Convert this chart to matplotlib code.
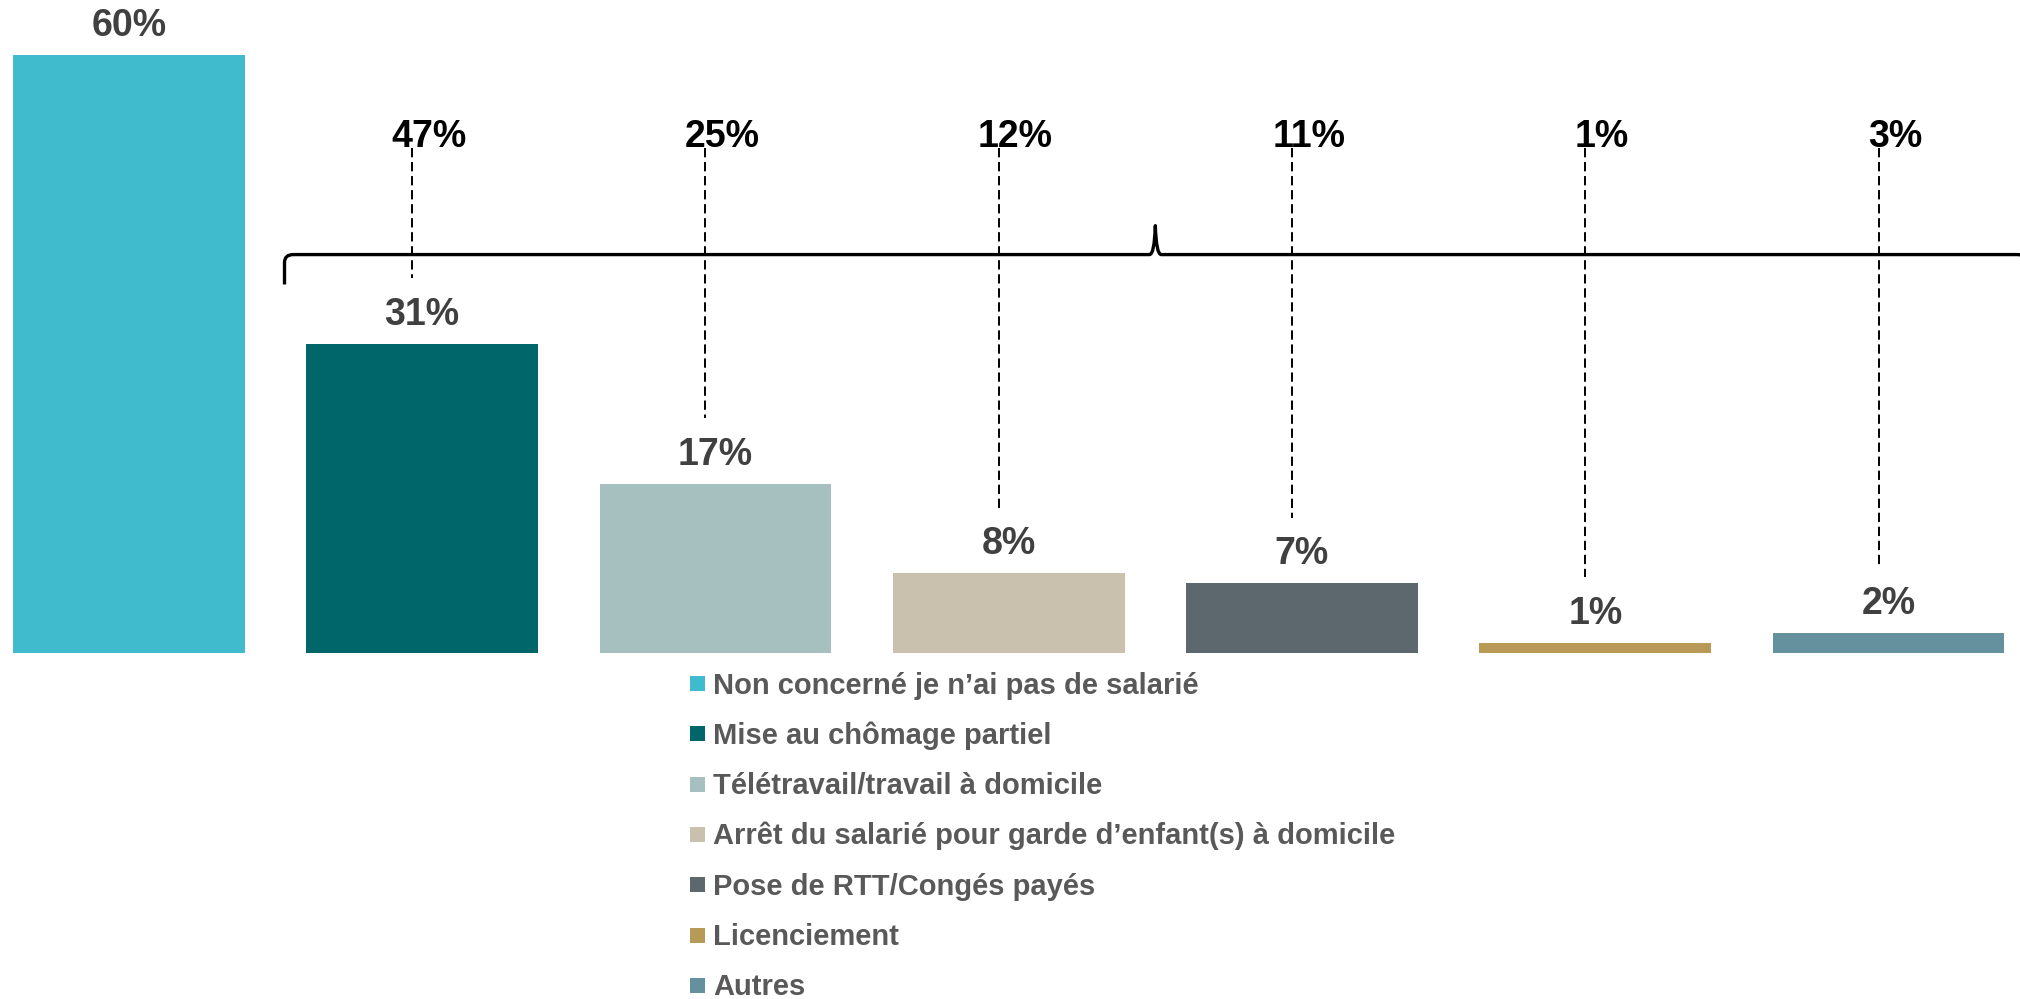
import matplotlib
matplotlib.use('Agg')
import matplotlib.pyplot as plt
from matplotlib.path import Path
from matplotlib.patches import PathPatch, Rectangle

# Data
categories = [
    "Non concerné je n’ai pas de salarié",
    "Mise au chômage partiel",
    "Télétravail/travail à domicile",
    "Arrêt du salarié pour garde d’enfant(s) à domicile",
    "Pose de RTT/Congés payés",
    "Licenciement",
    "Autres",
]
values = [60, 31, 17, 8, 7, 1, 2]
colors = ['#40BBCE', '#00666A', '#A6C0BF', '#C9C0AE', '#5C676E', '#B89A58', '#65909E']
# share among companies with employees (bars 2..7)
share_values = [47, 25, 12, 11, 1, 3]

plt.rcParams['font.family'] = ['Liberation Sans', 'DejaVu Sans']
plt.rcParams['font.weight'] = 'bold'
plt.rcParams['lines.scale_dashes'] = False

W, H = 2020, 999
fig = plt.figure(figsize=(W / 100, H / 100), dpi=100)
ax = fig.add_axes([0, 0, 1, 1])
ax.axis('off')

x = list(range(len(values)))
ax.bar(x, values, width=0.79, color=colors)
ax.set_xlim(-0.439, 6.448)
ax.set_ylim(-34.74, 65.56)

# Value labels above the bars
for xi, v in zip(x, values):
    ax.annotate(f'{v}%', (xi, v), xytext=(0, 13.7), textcoords='offset points',
                ha='center', va='baseline', fontsize=27, color='#404040')

# Top shares with dashed leaders
top_y = 50.8
for xi, v, s in zip(x[1:], values[1:], share_values):
    ax.annotate(f'{s}%', (xi, top_y), xytext=(5, 0), textcoords='offset points',
                ha='center', va='baseline', fontsize=27, color='black')
    ax.plot([xi - 0.034, xi - 0.034], [top_y - 0.1, v + 6.6], color='black',
            lw=1.4, dashes=(6.7, 3.4), solid_capstyle='butt', dash_capstyle='butt')

# Brace over bars 2..7
half = 0.79 / 2
x0 = x[1] - half - 0.074
x1 = x[-1] + half + 0.074
xm = (x0 + x1) / 2
yb = 40.0
verts = [
    (x0, yb - 3.0), (x0, yb - 0.8),
    (x0, yb), (x0 + 0.03, yb),
    (xm - 0.02, yb),
    (xm - 0.003, yb), (xm, yb + 2.9),
    (xm + 0.003, yb), (xm + 0.02, yb),
    (x1 - 0.03, yb),
    (x1, yb), (x1, yb - 0.8),
    (x1, yb - 3.0),
]
codes = [Path.MOVETO, Path.LINETO,
         Path.CURVE3, Path.CURVE3,
         Path.LINETO,
         Path.CURVE3, Path.CURVE3,
         Path.CURVE3, Path.CURVE3,
         Path.LINETO,
         Path.CURVE3, Path.CURVE3,
         Path.LINETO]
ax.add_patch(PathPatch(Path(verts, codes), fill=False, lw=2.4, color='black',
                       joinstyle='round', capstyle='butt'))

# Legend (vertical list under the bars)
for i, (cat, col) in enumerate(zip(categories, colors)):
    yc = 683.5 + i * 50.3
    fig.add_artist(Rectangle((690 / W, 1 - (yc + 7.5) / H), 15 / W, 15 / H,
                             transform=fig.transFigure, color=col, lw=0))
    fig.text(713 / W, 1 - (yc + 10) / H, cat, ha='left', va='baseline',
             fontsize=21, color='#595959')

fig.savefig('out.png', dpi=100)
